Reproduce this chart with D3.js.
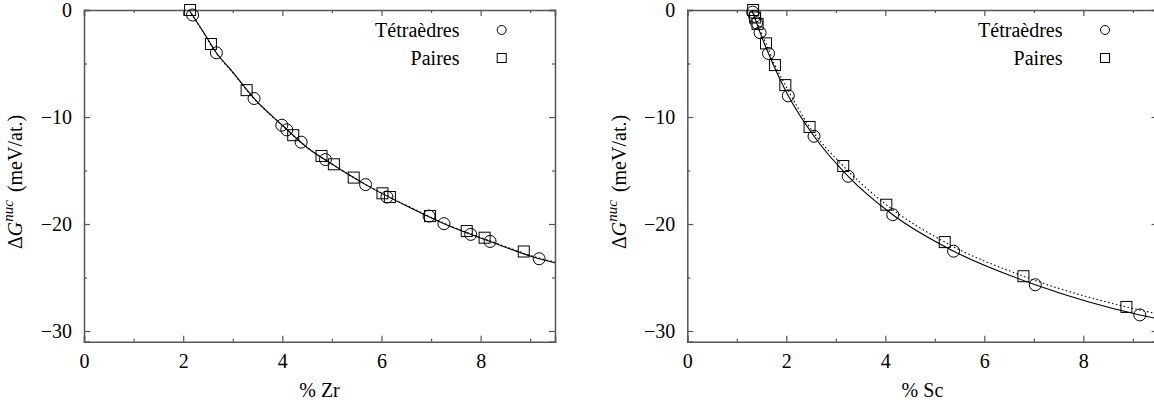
<!DOCTYPE html>
<html><head><meta charset="utf-8">
<script src="https://cdn.jsdelivr.net/npm/d3@7"></script>
<style>
body{margin:0;background:#fff}
svg text{fill:#000}
</style>
</head><body><svg id="c" width="1154" height="406"></svg>
<script>
// ---------- data ----------
const xTicks = [0, 2, 4, 6, 8];
const xMinorTicks = [1, 3, 5, 7, 9];
const yTicks = [0, -10, -20, -30];
const yMinorTicks = [-5, -15, -25];
const legendLabels = ["Tétraèdres", "Paires"];

// Zr panel
const zrTetraX = [2.19, 2.67, 3.43, 3.99, 4.09, 4.38, 4.87, 5.68, 6.11, 6.96, 7.26, 7.80, 8.19, 9.18];
const zrTetraY = [-0.47, -4.0, -8.27, -10.77, -11.2, -12.35, -13.98, -16.32, -17.48, -19.26, -19.97, -20.97, -21.63, -23.25];
const zrPairX = [2.14, 2.56, 3.28, 4.22, 4.79, 5.04, 5.44, 6.02, 6.17, 6.98, 7.72, 8.08, 8.87];
const zrPairY = [0, -3.18, -7.49, -11.7, -13.64, -14.42, -15.66, -17.13, -17.48, -19.26, -20.66, -21.28, -22.57];
const zrFitTetraX = [2.12, 2.4, 2.67, 3.0, 3.43, 4.0, 4.5, 5.0, 5.68, 6.5, 7.26, 8.19, 9.18, 9.5];
const zrFitTetraY = [0, -2.0, -4.0, -5.8, -8.27, -10.77, -12.85, -14.4, -16.32, -18.3, -19.97, -21.63, -23.25, -23.62];
const zrFitPairX = [2.12, 2.4, 2.67, 3.0, 3.43, 4.0, 4.5, 5.0, 5.68, 6.5, 7.26, 8.19, 9.18, 9.5];
const zrFitPairY = [0, -2.05, -4.05, -5.85, -8.3, -10.8, -12.85, -14.4, -16.3, -18.25, -19.92, -21.57, -23.18, -23.55];

// Sc panel
const scTetraX = [1.32, 1.36, 1.40, 1.47, 1.64, 2.04, 2.56, 3.25, 4.15, 5.38, 7.03, 9.14];
const scTetraY = [-0.2, -0.6, -1.2, -2.12, -4.06, -8.02, -11.8, -15.54, -19.13, -22.54, -25.68, -28.5];
const scPairX = [1.33, 1.37, 1.42, 1.59, 1.77, 1.98, 2.47, 3.15, 4.02, 5.20, 6.79, 8.87];
const scPairY = [0, -0.7, -1.3, -3.12, -5.15, -7.02, -10.93, -14.58, -18.2, -21.69, -24.88, -27.75];
const scFitTetraX = [1.30, 1.40, 1.47, 1.64, 2.04, 2.56, 3.25, 4.15, 5.38, 7.03, 9.14, 9.5];
const scFitTetraY = [0, -1.2, -2.12, -4.06, -8.02, -11.8, -15.54, -19.13, -22.54, -25.68, -28.5, -28.85];
const scFitPairX = [1.31, 1.42, 1.59, 1.77, 1.98, 2.47, 3.15, 4.02, 5.20, 6.79, 8.87, 9.5];
const scFitPairY = [0, -1.3, -3.12, -5.15, -7.02, -10.93, -14.58, -18.2, -21.69, -24.88, -27.75, -28.4];

const xDomain = [0, 9.5];
const yDomain = [-31, 0];

// ---------- drawing ----------
const svg = d3.select("#c");
const FS = 20;
const FONT = "'Liberation Serif', 'Times New Roman', Times, 'DejaVu Serif', serif";
const frameColor = "#555";
const zip = (xs, ys) => xs.map((x, i) => [x, ys[i]]);

function panel(opt) {
  const x = d3.scaleLinear().domain(xDomain).range([opt.left, opt.right]);
  const y = d3.scaleLinear().domain(yDomain).range([opt.bottom, opt.top]);
  const g = svg.append("g").style("font-family", FONT);

  function styleAxis(sel, labels) {
    sel.attr("font-family", null).attr("font-size", FS);
    sel.select(".domain").attr("stroke", frameColor).attr("stroke-width", 1.5);
    sel.selectAll(".tick line").attr("stroke", frameColor).attr("stroke-width", 1.2);
    sel.selectAll(".tick text").attr("fill", "#000").style("font-family", FONT);
    if (!labels) sel.selectAll(".tick text").remove();
  }
  const fmt = d => d < 0 ? "\u2212" + Math.abs(d) : String(d);

  g.append("g").attr("transform", `translate(0,${opt.bottom})`)
    .call(d3.axisBottom(x).tickValues(xTicks).tickSize(-6).tickPadding(12).tickFormat(fmt))
    .call(s => styleAxis(s, true));
  g.append("g").attr("transform", `translate(0,${opt.top})`)
    .call(d3.axisTop(x).tickValues(xTicks).tickSize(-6).tickFormat(""))
    .call(s => styleAxis(s, false));
  g.append("g").attr("transform", `translate(${opt.left},0)`)
    .call(d3.axisLeft(y).tickValues(yTicks).tickSize(-6).tickPadding(12).tickFormat(fmt))
    .call(s => styleAxis(s, true));
  g.append("g").attr("transform", `translate(${opt.right},0)`)
    .call(d3.axisRight(y).tickValues(yTicks).tickSize(-6).tickFormat(""))
    .call(s => styleAxis(s, false));
  const minorStyle = s => { s.select(".domain").remove(); s.selectAll(".tick line").attr("stroke", frameColor).attr("stroke-width", 1.2); s.selectAll(".tick text").remove(); };
  g.append("g").attr("transform", `translate(0,${opt.bottom})`).call(d3.axisBottom(x).tickValues(xMinorTicks).tickSize(-3)).call(minorStyle);
  g.append("g").attr("transform", `translate(0,${opt.top})`).call(d3.axisTop(x).tickValues(xMinorTicks).tickSize(-3)).call(minorStyle);
  g.append("g").attr("transform", `translate(${opt.left},0)`).call(d3.axisLeft(y).tickValues(yMinorTicks).tickSize(-3)).call(minorStyle);
  g.append("g").attr("transform", `translate(${opt.right},0)`).call(d3.axisRight(y).tickValues(yMinorTicks).tickSize(-3)).call(minorStyle);

  const line = d3.line().x(d => x(d[0])).y(d => y(d[1])).curve(d3.curveMonotoneX);
  g.append("path").datum(zip(opt.fitPairX, opt.fitPairY)).attr("d", line)
    .attr("fill", "none").attr("stroke", "#000").attr("stroke-width", 1.1).attr("stroke-dasharray", "1.5,2.5");
  g.append("path").datum(zip(opt.fitTetraX, opt.fitTetraY)).attr("d", line)
    .attr("fill", "none").attr("stroke", "#000").attr("stroke-width", 1.1);

  g.append("g").selectAll("rect").data(zip(opt.pairX, opt.pairY)).join("rect")
    .attr("x", d => x(d[0]) - 5.5).attr("y", d => y(d[1]) - 5.5)
    .attr("width", 11).attr("height", 11)
    .attr("fill", "none").attr("stroke", "#000").attr("stroke-width", 1);
  g.append("g").selectAll("circle").data(zip(opt.tetraX, opt.tetraY)).join("circle")
    .attr("cx", d => x(d[0])).attr("cy", d => y(d[1])).attr("r", 6)
    .attr("fill", "none").attr("stroke", "#000").attr("stroke-width", 1);

  const lg = g.append("g").attr("font-size", FS);
  lg.append("text").attr("x", opt.legendTextX).attr("y", 36.5).attr("text-anchor", "end").text(legendLabels[0]);
  lg.append("text").attr("x", opt.legendTextX).attr("y", 65).attr("text-anchor", "end").text(legendLabels[1]);
  lg.append("circle").attr("cx", opt.legendMarkX).attr("cy", 30).attr("r", 4.5).attr("fill", "none").attr("stroke", "#000").attr("stroke-width", 1);
  lg.append("rect").attr("x", opt.legendMarkX - 4.5).attr("y", 53.5).attr("width", 9).attr("height", 9).attr("fill", "none").attr("stroke", "#000").attr("stroke-width", 1);

  g.append("text").attr("x", (opt.left + opt.right) / 2).attr("y", 397).attr("text-anchor", "middle").attr("font-size", FS).text(opt.xLabel);

  const yl = g.append("text").attr("transform", `translate(${opt.yLabelX},182) rotate(-90)`)
    .attr("text-anchor", "middle").attr("font-size", FS);
  yl.append("tspan").text("\u0394");
  yl.append("tspan").attr("font-style", "italic").text("G");
  yl.append("tspan").attr("font-style", "italic").attr("font-size", 15).attr("dy", -9).text("nuc");
  yl.append("tspan").attr("dy", 9).attr("dx", 8).text("(meV/at.)");
}

panel({
  left: 84, right: 555, top: 10, bottom: 341.7,
  tetraX: zrTetraX, tetraY: zrTetraY, pairX: zrPairX, pairY: zrPairY,
  fitTetraX: zrFitTetraX, fitTetraY: zrFitTetraY, fitPairX: zrFitPairX, fitPairY: zrFitPairY,
  legendTextX: 459.5, legendMarkX: 501.7, xLabel: "% Zr", yLabelX: 22
});
panel({
  left: 687.3, right: 1157.6, top: 10, bottom: 341.7,
  tetraX: scTetraX, tetraY: scTetraY, pairX: scPairX, pairY: scPairY,
  fitTetraX: scFitTetraX, fitTetraY: scFitTetraY, fitPairX: scFitPairX, fitPairY: scFitPairY,
  legendTextX: 1062.5, legendMarkX: 1105, xLabel: "% Sc", yLabelX: 626
});
</script>
</body></html>
